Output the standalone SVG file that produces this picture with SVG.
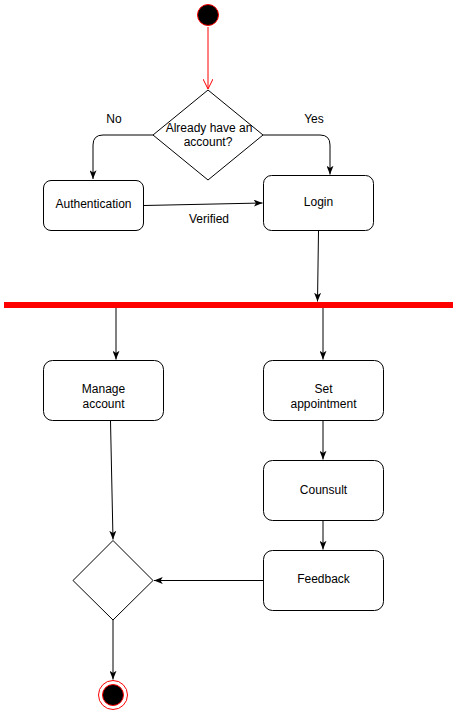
<svg xmlns="http://www.w3.org/2000/svg" width="456" height="711" viewBox="0 0 456 711">
<style>
.box{fill:#fff;stroke:#000;stroke-width:1}
.t{font-family:"Liberation Sans",Arial,sans-serif;font-size:12px;fill:#000;text-anchor:middle}
.c{fill:none;stroke:#000;stroke-width:1}
</style>
<defs>
<marker id="arr" viewBox="0 0 10 8" refX="10" refY="4" markerWidth="9" markerHeight="7" markerUnits="userSpaceOnUse" orient="auto">
<path d="M0,0 L10,4 L0,8 L2.5,4 z" fill="#000"/>
</marker>
<marker id="open" viewBox="0 0 10 10" refX="10" refY="5" markerWidth="10" markerHeight="10" markerUnits="userSpaceOnUse" orient="auto">
<path d="M0,0 L10,5 L0,10" fill="none" stroke="#ff0000" stroke-width="1"/>
</marker>
</defs>
<rect width="456" height="711" fill="#fff"/>
<g id="connectors">
<path d="M208,27 V89" fill="none" stroke="#ff0000" marker-end="url(#open)"/>
<path class="c" d="M153,135 H103 Q93,135 93,145 V179" marker-end="url(#arr)"/>
<path class="c" d="M263,135 H320 Q330,135 330,145 V174.5" marker-end="url(#arr)"/>
<path class="c" d="M144,205.5 L262.5,203" marker-end="url(#arr)"/>
<path class="c" d="M318.5,231 L317.5,301.5" marker-end="url(#arr)"/>
<path class="c" d="M116,308 V359.5" marker-end="url(#arr)"/>
<path class="c" d="M323,308 V359.5" marker-end="url(#arr)"/>
<path class="c" d="M323,421 V459.5" marker-end="url(#arr)"/>
<path class="c" d="M323,521 V549.5" marker-end="url(#arr)"/>
<path class="c" d="M263,580.5 H154" marker-end="url(#arr)"/>
<path class="c" d="M110.5,421 L113,539.5" marker-end="url(#arr)"/>
<path class="c" d="M113,620 V679.5" marker-end="url(#arr)"/>
<text class="t" x="114" y="123">No</text>
<text class="t" x="314" y="123">Yes</text>
<text class="t" x="209" y="223">Verified</text>
</g>
<g id="start"><circle cx="208" cy="15" r="10.5" fill="#000" stroke="#ff0000" stroke-width="1"/></g>
<g id="decision1">
<path class="box" d="M208,90 L263,135 L208,180 L153,135 Z"/>
<text class="t" x="209" y="132">Already have an</text>
<text class="t" x="208" y="146">account?</text>
</g>
<g id="authentication">
<rect class="box" x="43.5" y="180.5" width="100" height="50" rx="7.5"/>
<text class="t" x="93.5" y="207.5">Authentication</text>
</g>
<g id="login">
<rect class="box" x="263.5" y="175.5" width="110" height="55" rx="8"/>
<text class="t" x="318.5" y="206">Login</text>
</g>
<g id="fork"><rect x="4" y="302" width="449" height="6" fill="#ff0000"/></g>
<g id="manage">
<rect class="box" x="43.5" y="360.5" width="120" height="60" rx="9"/>
<text class="t" x="103.5" y="393">Manage</text>
<text class="t" x="103.5" y="408">account</text>
</g>
<g id="setappointment">
<rect class="box" x="263.5" y="360.5" width="120" height="60" rx="9"/>
<text class="t" x="323.5" y="393">Set</text>
<text class="t" x="323.5" y="408">appointment</text>
</g>
<g id="counsult">
<rect class="box" x="263.5" y="460.5" width="120" height="60" rx="9"/>
<text class="t" x="323.5" y="494">Counsult</text>
</g>
<g id="feedback">
<rect class="box" x="263.5" y="550.5" width="120" height="60" rx="9"/>
<text class="t" x="323.5" y="583">Feedback</text>
</g>
<g id="merge"><path class="box" d="M113,540.5 L153,580.5 L113,620 L73,580.5 Z"/></g>
<g id="end">
<circle cx="113" cy="695" r="14.5" fill="#fff" stroke="#ff0000" stroke-width="1"/>
<circle cx="113" cy="695" r="10.5" fill="#000" stroke="#ff0000" stroke-width="1"/>
</g>
</svg>
